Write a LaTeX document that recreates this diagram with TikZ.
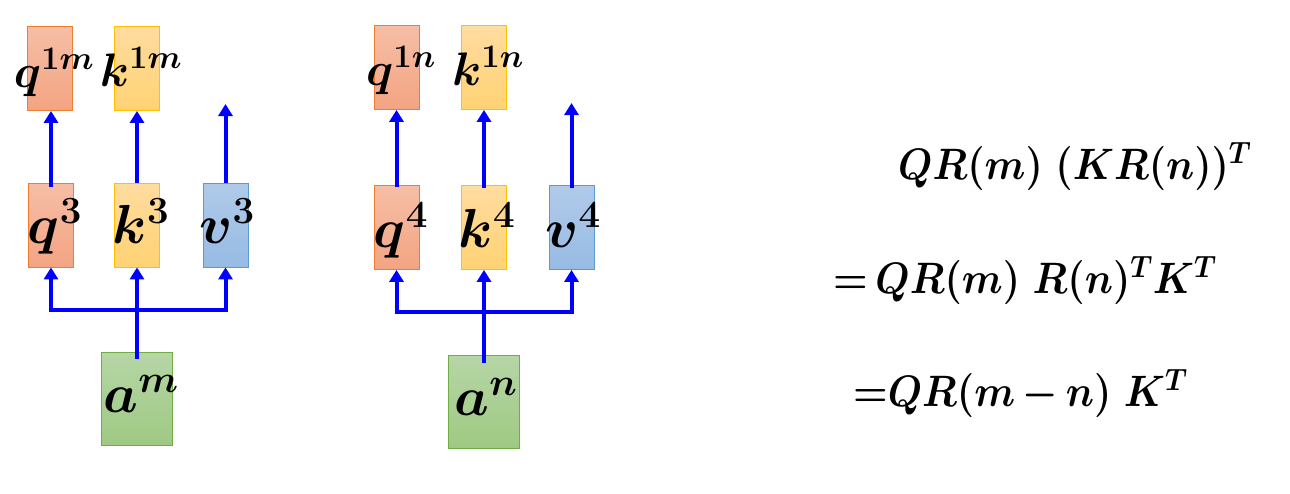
\RequirePackage{fix-cm}
\documentclass[tikz,border=0pt]{standalone}
\usepackage{amsmath}
\usepackage{graphicx}
\usetikzlibrary{arrows.meta}
\definecolor{arrblue}{RGB}{0,0,255}
\definecolor{qtop}{RGB}{246,190,166}
\definecolor{qbot}{RGB}{243,164,130}
\definecolor{qline}{RGB}{237,125,49}
\definecolor{ktop}{RGB}{255,220,160}
\definecolor{kbot}{RGB}{255,210,115}
\definecolor{kline}{RGB}{255,192,0}
\definecolor{vtop}{RGB}{176,202,233}
\definecolor{vbot}{RGB}{151,187,228}
\definecolor{vline}{RGB}{91,155,213}
\definecolor{atop}{RGB}{182,214,166}
\definecolor{abot}{RGB}{158,201,130}
\definecolor{aline}{RGB}{112,173,71}
\tikzset{
  box/.style={rectangle, line width=0.8pt, minimum width=45pt, minimum height=84pt, inner sep=0pt},
  qbox/.style={box, draw=qline, top color=qtop, bottom color=qbot},
  kbox/.style={box, draw=kline, top color=ktop, bottom color=kbot},
  vbox/.style={box, draw=vline, top color=vtop, bottom color=vbot},
  abox/.style={box, draw=aline, top color=atop, bottom color=abot, minimum width=71pt, minimum height=93pt},
  arr/.style={draw=arrblue, line width=4pt, -{Triangle[width=14pt,length=12pt]}},
  lnk/.style={draw=arrblue, line width=4pt},
  toplbl/.style={anchor=base, inner sep=0pt, font=\fontsize{47}{56}\selectfont\boldmath},
  midlbl/.style={anchor=base, inner sep=0pt, font=\fontsize{55}{66}\selectfont\boldmath},
  albl/.style={anchor=base, inner sep=0pt, font=\fontsize{55}{66}\selectfont\boldmath},
  eq/.style={anchor=base west, inner sep=0pt, font=\fontsize{44}{52}\selectfont\boldmath}
}
\newcommand{\eqtext}[1]{\scalebox{0.9}[1]{#1}}
\begin{document}
\begin{tikzpicture}[x=1pt,y=-1pt]
\useasboundingbox (0,0) rectangle (1290,493);
% left group
\node[qbox] (q1m) at (49.5,68.5) {};
\node[kbox] (k1m) at (137,68.5) {};
\node[qbox] (q3) at (51,225) {};
\node[kbox] (k3) at (137,225) {};
\node[vbox] (v3) at (225.5,225) {};
\node[abox] (am) at (137,399) {};
\coordinate (v3end) at (223,104);
\coordinate (jm) at (137,310);
% right group
\node[qbox] (q1n) at (396.5,67.5) {};
\node[kbox] (k1n) at (484,67.5) {};
\node[qbox] (q4) at (396.5,227.5) {};
\node[kbox] (k4) at (484,227.5) {};
\node[vbox] (v4) at (571.5,227.5) {};
\node[abox] (an) at (484,402) {};
\coordinate (v4end) at (571.5,103);
\coordinate (jn) at (484,312);
% arrows left
\draw[arr] ([yshift=-4pt]q3.north) -- (q3.north |- q1m.south);
\draw[arr] (k3.north) -- (k1m.south);
\draw[arr] (v3.north) -- (v3.north |- v3end);
\draw[lnk] ([yshift=-7pt]am.north) -- (jm);
\draw[arr] (jm) -- (k3.south);
\draw[arr] (jm) -| (q3.south);
\draw[arr] (jm) -| (v3.south);
% arrows right
\draw[arr] ([yshift=-2pt]q4.north) -- (q1n.south);
\draw[arr] ([yshift=-3pt]k4.north) -- (k1n.south);
\draw[arr] ([yshift=-3pt]v4.north) -- (v4end);
\draw[lnk] ([yshift=-8pt]an.north) -- (jn);
\draw[arr] (jn) -- (k4.south);
\draw[arr] (jn) -| (q4.south);
\draw[arr] (jn) -| (v4.south);
% labels left
\node[toplbl] (lq1m) at (54,87) {$q^{1m}$};
\node[toplbl] (lk1m) at (141,86) {$k^{1m}$};
\node[midlbl] (lq3) at (55,243) {$q^{3}$};
\node[midlbl] (lk3) at (141,243) {$k^{3}$};
\node[midlbl] (lv3) at (227,243) {$v^{3}$};
\node[albl] (lam) at (141,412) {$a^{m}$};
% labels right
\node[toplbl] (lq1n) at (401,85) {$q^{1n}$};
\node[toplbl] (lk1n) at (488,85) {$k^{1n}$};
\node[midlbl] (lq4) at (401,247) {$q^{4}$};
\node[midlbl] (lk4) at (487,247) {$k^{4}$};
\node[midlbl] (lv4) at (573,247) {$v^{4}$};
\node[albl] (lan) at (486,415) {$a^{n}$};
% equations
\node[eq] (eq1) at (898,179) {\eqtext{$QR(m)\;(KR(n))^{T}$}};
\node[eq] (eq2) at (833,293) {\eqtext{${=}\,QR(m)\;R(n)^{T}K^{T}$}};
\node[eq] (eq3) at (853,406) {\eqtext{${=}QR(m\,{-}\,n)\;K^{T}$}};
\end{tikzpicture}
\end{document}
